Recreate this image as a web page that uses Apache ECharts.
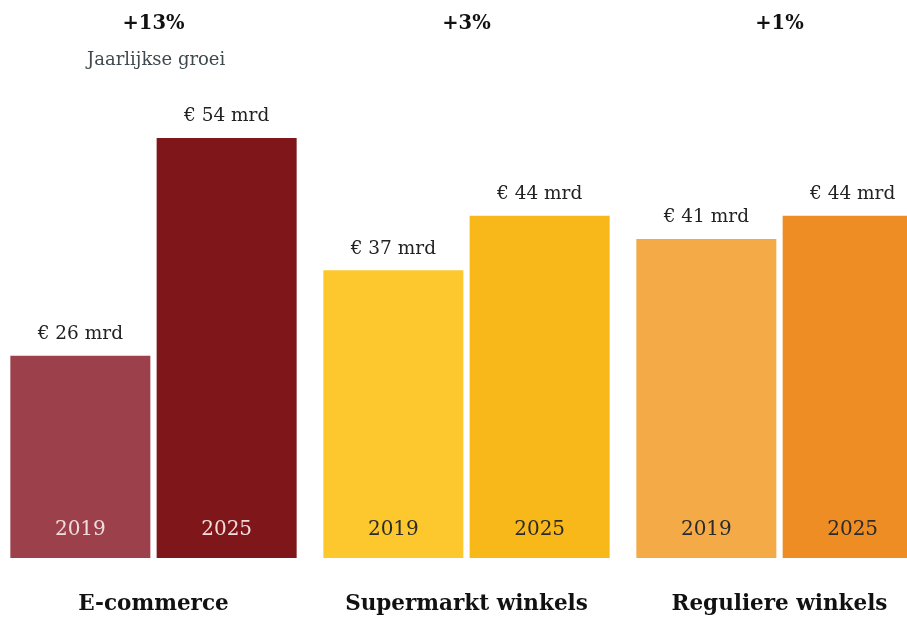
<!DOCTYPE html>
<html>
<head>
<meta charset="utf-8">
<script src="https://cdn.jsdelivr.net/npm/echarts@6/dist/echarts.min.js"></script>
<style>html,body{margin:0;padding:0;background:#fff;}#c{width:907px;height:617px;}</style>
</head>
<body>
<div id="c"></div>
<script>
const categories = ['E-commerce', 'Supermarkt winkels', 'Reguliere winkels'];
const years = ['2019', '2025'];
const values2019 = [26, 37, 41];
const values2025 = [54, 44, 44];
const growth = ['+13%', '+3%', '+1%'];
const growthNote = 'Jaarlijkse groei';
const colors2019 = ['#9C414B', '#FDC82E', '#F3AA47'];
const colors2025 = ['#7E161A', '#F9B81A', '#EE8D24'];
const yearTextColors = ['#F2DCDC', '#2b2b2b', '#2b2b2b'];

const FONT = 'DejaVu Serif';
const chart = echarts.init(document.getElementById('c'), null, {renderer: 'canvas'});

function mkData(vals, cols) {
  return vals.map((v, i) => ({value: v, itemStyle: {color: cols[i]}}));
}

function mkSeries(name, vals, cols) {
  return {
    type: 'bar',
    name: name,
    data: mkData(vals, cols),
    barWidth: 140,
    barGap: '4.5%',
    label: {
      show: true,
      position: 'top',
      distance: 12,
      fontFamily: FONT,
      fontSize: 18.5,
      color: '#222',
      formatter: p => '€ ' + p.value + ' mrd'
    },
    silent: true,
    animation: false
  };
}

function yearSeries(idx, vals) {
  return {
    type: 'bar',
    data: vals.map((v, i) => ({
      value: v,
      label: {color: yearTextColors[i]}
    })),
    barWidth: 140,
    barGap: '4.5%',
    itemStyle: {color: 'rgba(0,0,0,0)'},
    label: {
      show: true,
      position: 'insideBottom',
      distance: 18,
      fontFamily: FONT,
      fontSize: 20,
      formatter: () => years[idx]
    },
    silent: true,
    animation: false,
    xAxisIndex: 2,
    z: 5
  };
}

chart.setOption({
  animation: false,
  grid: {left: -3, right: -29, top: 138, bottom: 59, containLabel: false, outerBoundsMode: 'none'},
  xAxis: [
    {
      type: 'category',
      data: categories,
      axisLine: {show: false},
      axisTick: {show: false},
      axisLabel: {
        margin: 35,
        fontFamily: FONT,
        fontWeight: 'bold',
        fontSize: 21.5,
        color: '#111',
        interval: 0
      }
    },
    {
      type: 'category',
      data: growth,
      position: 'top',
      axisLine: {show: false},
      axisTick: {show: false},
      axisLabel: {
        margin: 104,
        fontFamily: FONT,
        fontWeight: 'bold',
        fontSize: 19.5,
        color: '#111',
        interval: 0
      }
    },
    {
      type: 'category',
      data: categories,
      show: false
    }
  ],
  yAxis: {
    type: 'value',
    min: 0,
    max: 54,
    show: false,
    splitLine: {show: false}
  },
  graphic: [{
    type: 'text',
    left: 87,
    top: 51,
    style: {
      text: growthNote,
      fontFamily: FONT,
      fontSize: 18,
      fill: '#3e4a4e'
    }
  }],
  series: [
    mkSeries(years[0], values2019, colors2019),
    mkSeries(years[1], values2025, colors2025),
    yearSeries(0, values2019),
    yearSeries(1, values2025)
  ]
});
</script>
</body>
</html>
